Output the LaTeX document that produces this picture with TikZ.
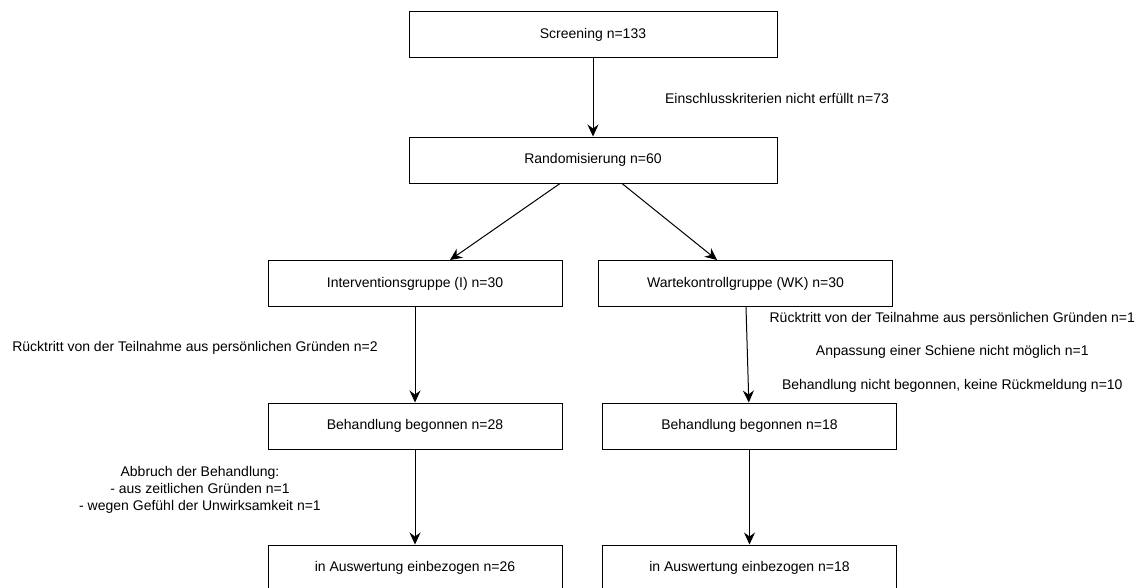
\documentclass[tikz,border=0pt]{standalone}
\usepackage{fontspec}
\setmainfont{Liberation Sans}
\usetikzlibrary{arrows.meta}

\begin{document}
\begin{tikzpicture}[x=1pt,y=-1pt,
        box/.style = {draw, line width=1pt, minimum width=294pt, minimum height=46pt, inner sep=0pt, font=\fontsize{14}{17}\selectfont},
        wide/.style = {box, minimum width=368pt},
        lbl/.style = {inner sep=0pt, align=center, font=\fontsize{14}{17}\selectfont},
        arr/.style = {-{Stealth[length=12pt,width=11pt,inset=4pt]}, line width=1pt}]
        \useasboundingbox (0,0) rectangle (1141,587);
        \node[wide] (scr) at (593,34.5) {Screening n=133};
        \node[wide] (rand) at (593,160) {Randomisierung n=60};
        \node[box] (ig) at (415,283.5) {Interventionsgruppe (I) n=30};
        \node[box] (wk) at (745.5,283.5) {Wartekontrollgruppe (WK) n=30};
        \node[box] (bi) at (415,426) {Behandlung begonnen n=28};
        \node[box] (bw) at (749.5,426) {Behandlung begonnen n=18};
        \node[box] (ai) at (415,568) {in Auswertung einbezogen n=26};
        \node[box] (aw) at (749.5,568) {in Auswertung einbezogen n=18};
        \draw[arr] (scr) -- node[lbl, xshift=184pt, pos=0.51] {Einschlusskriterien nicht erfüllt n=73} (rand);
        \draw[arr] ([xshift=-33pt]rand.south) -- ([xshift=35pt]ig.north);
        \draw[arr] ([xshift=29pt]rand.south) -- ([xshift=-28.5pt]wk.north);
        \draw[arr] (ig) -- node[lbl, xshift=-220pt, pos=0.43] {Rücktritt von der Teilnahme aus persönlichen Gründen n=2} (bi);
        \draw[arr] ([xshift=0.5pt]wk.south) -- node[lbl, xshift=205pt, pos=0.47, font=\fontsize{14}{33.5}\selectfont] {Rücktritt von der Teilnahme aus persönlichen Gründen n=1\\Anpassung einer Schiene nicht möglich n=1\\Behandlung nicht begonnen, keine Rückmeldung n=10} (bw);
        \draw[arr] (bi) -- node[lbl, xshift=-215pt, pos=0.42] {Abbruch der Behandlung:\\- aus zeitlichen Gründen n=1\\- wegen Gefühl der Unwirksamkeit n=1} (ai);
        \draw[arr] (bw) -- (aw);
\end{tikzpicture}
\end{document}
